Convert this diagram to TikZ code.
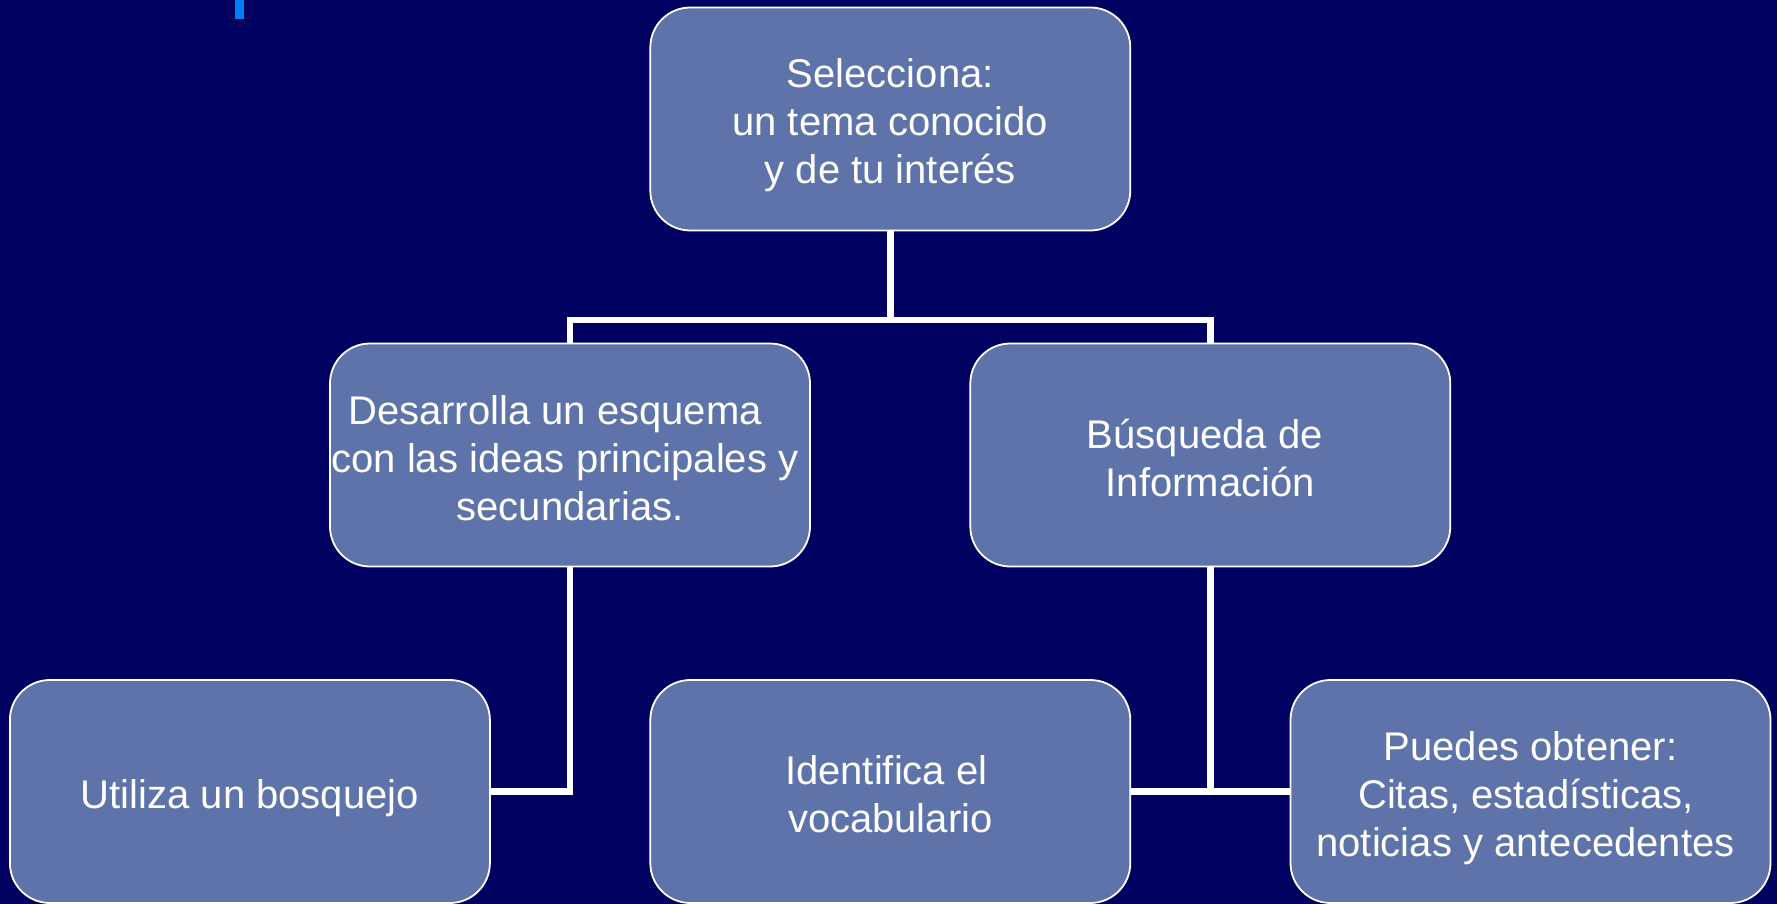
\documentclass[tikz,border=0pt]{standalone}
\usepackage{fontspec}
\setmainfont{Liberation Sans}
\definecolor{bgnavy}{RGB}{0,0,96}
\definecolor{boxblue}{RGB}{93,115,170}
\definecolor{markblue}{RGB}{0,128,240}
\newcommand\firststrut{\rule{0pt}{42.5pt}}
\newcommand\laststrut{\rule[-8.5pt]{0pt}{0pt}}
\newcommand\trail[2]{\hbox{#2\kern#1}}
\begin{document}
\begin{tikzpicture}[x=1pt,y=-1pt,
  stepbox/.style={draw=white, line width=1.8pt, fill=boxblue, rounded corners=40pt,
    minimum width=480pt, minimum height=223pt, inner sep=0pt, align=center, text=white,
    font=\fontsize{40}{48}\selectfont},
  link/.style={draw=white, line width=6.5pt}]
\useasboundingbox[fill=bgnavy] (0,0) rectangle (1777,904);
\fill[markblue] (235,0) rectangle (244,19);
\coordinate (j) at (890,320);
\node[stepbox] (top) at (890.3,119) {\firststrut Selecciona:\\un tema conocido\\y de tu interés\laststrut};
\node[stepbox] (ml) at (570,455) {\firststrut\trail{30pt}{Desarrolla un esquema}\\\trail{10pt}{con las ideas principales y}\\secundarias.\laststrut};
\node[stepbox] (mr) at (1210.3,455) {\firststrut\trail{11pt}{Búsqueda de}\\Información\laststrut};
\node[stepbox] (bl) at (249.9,791.5) {\firststrut Utiliza un bosquejo\laststrut};
\node[stepbox] (bm) at (890.3,791.5) {\firststrut\trail{8pt}{Identifica el}\\vocabulario\laststrut};
\node[stepbox] (br) at (1530.5,791.5) {\firststrut Puedes obtener:\\\trail{9pt}{Citas, estadísticas,}\\\trail{10pt}{noticias y antecedentes}\laststrut};
\draw[link] (top.south) -- (top.south |- j);
\draw[link] (ml.north) -- (ml.north |- j) -- (mr.north |- j) -- (mr.north);
\draw[link] (ml.south) |- (bl.east);
\draw[link] (mr.south) -- (mr.south |- bm.east);
\draw[link] (bm.east) -- (br.west);
\end{tikzpicture}
\end{document}
